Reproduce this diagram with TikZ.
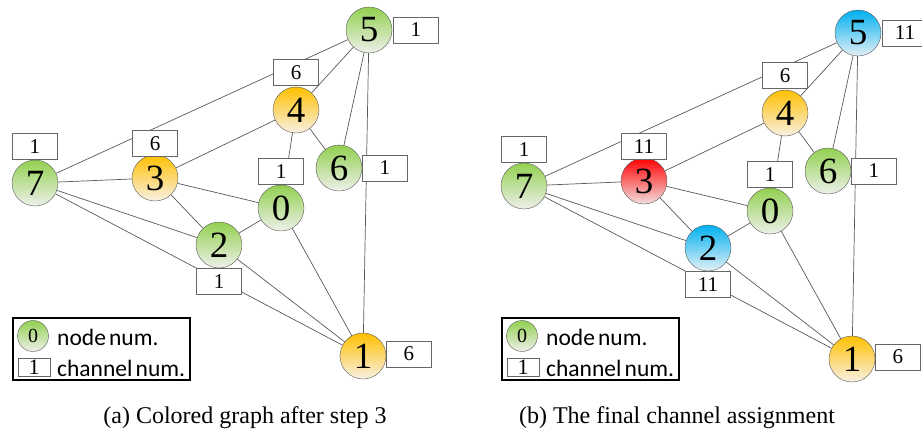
\documentclass[tikz,border=0pt]{standalone}
\usepackage{fontspec}
\setmainfont{Liberation Serif}
\newfontfamily\legfont[WordSpace=0.6]{Carlito}
\usetikzlibrary{positioning}
\definecolor{grtop}{RGB}{146,208,80}
\definecolor{grbot}{RGB}{238,240,234}
\definecolor{yltop}{RGB}{255,192,0}
\definecolor{ylbot}{RGB}{248,240,228}
\definecolor{rdtop}{RGB}{255,0,0}
\definecolor{rdbot}{RGB}{242,222,222}
\definecolor{bltop}{RGB}{0,176,240}
\definecolor{blbot}{RGB}{228,240,246}
\tikzset{
  vertex/.style={circle, draw=gray!70!black, minimum size=46pt, inner sep=0pt, font=\rmfamily\fontsize{37}{37}\selectfont},
  grnode/.style={vertex, top color=grtop, bottom color=grbot},
  ylnode/.style={vertex, top color=yltop, bottom color=ylbot},
  rdnode/.style={vertex, top color=rdtop, bottom color=rdbot},
  blnode/.style={vertex, top color=bltop, bottom color=blbot},
  chbox/.style={draw=gray!80!black, fill=white, minimum width=45pt, minimum height=26pt, inner sep=0pt, font=\rmfamily\fontsize{21}{21}\selectfont},
  link/.style={draw=gray!70!black, line width=0.7pt},
  keytext/.style={inner sep=0pt, font=\legfont\fontsize{23.5}{23.5}\selectfont},
  caption/.style={font=\rmfamily\fontsize{24}{24}\selectfont}
}

\begin{document}
\begin{tikzpicture}[x=1pt, y=-1pt]
  \useasboundingbox (0,0) rectangle (922,434);
  % (a) left graph
  \node[grnode] (L0) at (281,208) {0};
  \node[ylnode] (L1) at (363,356) {1};
  \node[grnode] (L2) at (219,245) {2};
  \node[ylnode] (L3) at (155,178) {3};
  \node[ylnode] (L4) at (296,110) {4};
  \node[grnode] (L5) at (369,30) {5};
  \node[grnode] (L6) at (339,168) {6};
  \node[grnode] (L7) at (35,183) {7};
  \draw[link] (L5) -- (L7) (L5) -- (L4) (L5) -- (L6) (L5) -- (L1);
  \draw[link] (L4) -- (L3) (L4) -- (L0) (L4) -- (L6);
  \draw[link] (L3) -- (L7) (L3) -- (L0) (L3) -- (L2);
  \draw[link] (L7) -- (L2) (L7) -- (L1);
  \draw[link] (L2) -- (L0) (L2) -- (L1) (L0) -- (L1);
  \node[chbox, right=1pt of L5] (chL5) {1};
  \node[chbox, above=1pt of L4] (chL4) {6};
  \node[chbox, above=-2pt of L3] (chL3) {6};
  \node[chbox, above=0pt of L7] (chL7) {1};
  \node[chbox, above=0pt of L0] (chL0) {1};
  \node[chbox, right=0pt of L6] (chL6) {1};
  \node[chbox, below=0pt of L2] (chL2) {1};
  \node[chbox, right=0pt of L1, yshift=2pt] (chL1) {6};
  % legend (a)
  \draw[line width=1.2pt] (13,318) rectangle (190,380);
  \node[grnode, minimum size=31pt, font=\rmfamily\fontsize{20}{20}\selectfont] (keyL) at (33,336) {0};
  \node[chbox, minimum width=32pt, minimum height=18pt, font=\rmfamily\fontsize{22}{22}\selectfont] (boxL) at (34,367) {1};
  \node[keytext, anchor=west] (keytxtL) at (57,337) {node num.};
  \node[keytext, anchor=west] (boxtxtL) at (57,368) {channel num.};
  \node[caption] (capL) at (245,418) {(a) Colored graph after step 3};
  % (b) right graph
  \node[grnode] (R0) at (770,211) {0};
  \node[ylnode] (R1) at (852,359) {1};
  \node[blnode] (R2) at (708,248) {2};
  \node[rdnode] (R3) at (644,181) {3};
  \node[ylnode] (R4) at (785,113) {4};
  \node[blnode] (R5) at (858,33) {5};
  \node[grnode] (R6) at (828,171) {6};
  \node[grnode] (R7) at (524,186) {7};
  \draw[link] (R5) -- (R7) (R5) -- (R4) (R5) -- (R6) (R5) -- (R1);
  \draw[link] (R4) -- (R3) (R4) -- (R0) (R4) -- (R6);
  \draw[link] (R3) -- (R7) (R3) -- (R0) (R3) -- (R2);
  \draw[link] (R7) -- (R2) (R7) -- (R1);
  \draw[link] (R2) -- (R0) (R2) -- (R1) (R0) -- (R1);
  \node[chbox, right=1pt of R5] (chR5) {11};
  \node[chbox, above=1pt of R4] (chR4) {6};
  \node[chbox, above=-2pt of R3] (chR3) {11};
  \node[chbox, above=0pt of R7] (chR7) {1};
  \node[chbox, above=0pt of R0] (chR0) {1};
  \node[chbox, right=0pt of R6] (chR6) {1};
  \node[chbox, below=0pt of R2] (chR2) {11};
  \node[chbox, right=0pt of R1, yshift=2pt] (chR1) {6};
  % legend (b)
  \draw[line width=1.2pt] (502,318) rectangle (679,380);
  \node[grnode, minimum size=31pt, font=\rmfamily\fontsize{20}{20}\selectfont] (keyR) at (522,336) {0};
  \node[chbox, minimum width=32pt, minimum height=18pt, font=\rmfamily\fontsize{22}{22}\selectfont] (boxR) at (523,367) {1};
  \node[keytext, anchor=west] (keytxtR) at (546,337) {node num.};
  \node[keytext, anchor=west] (boxtxtR) at (546,368) {channel num.};
  \node[caption] (capR) at (677,418) {(b) The final channel assignment};
\end{tikzpicture}
\end{document}
